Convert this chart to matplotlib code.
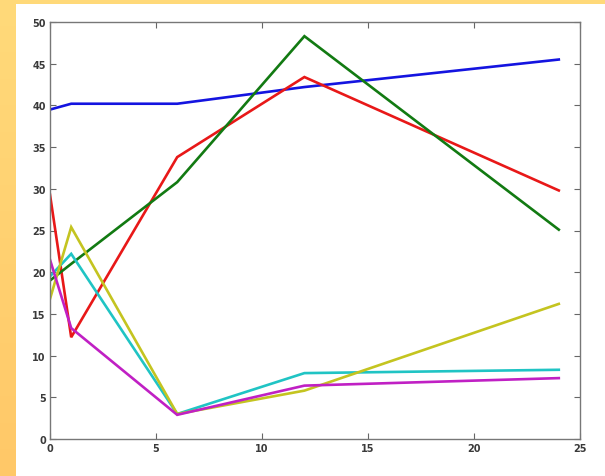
import numpy as np
import matplotlib
matplotlib.use("Agg")
import matplotlib.pyplot as plt
from matplotlib.patches import Rectangle

# Sample times and measured series
hours = [0, 1, 6, 12, 24]
blue_vals = [39.5, 40.2, 40.2, 42.2, 45.5]
red_vals = [29.3, 12.2, 33.8, 43.4, 29.8]
green_vals = [19.0, 21.0, 30.8, 48.3, 25.1]
cyan_vals = [19.5, 22.2, 3.0, 7.9, 8.3]
yellow_vals = [16.8, 25.4, 3.0, 5.8, 16.2]
magenta_vals = [21.5, 13.3, 2.9, 6.4, 7.3]

x_ticks = [0, 5, 10, 15, 20, 25]
y_ticks = [0, 5, 10, 15, 20, 25, 30, 35, 40, 45, 50]

W, H = 605, 477
fig = plt.figure(figsize=(W / 100, H / 100), dpi=100)

# warm gradient backdrop
bg = fig.add_axes([0, 0, 1, 1])
bg.set_axis_off()
t = np.linspace(0, 1, H)[:, None, None]
top = np.array([255, 218, 122]) / 255
bottom = np.array([255, 200, 104]) / 255
grad = np.broadcast_to(top * (1 - t) + bottom * t, (H, W, 3))
bg.imshow(grad, aspect="auto", extent=[0, W, H, 0])
bg.add_patch(Rectangle((16, 5), W - 16, H - 5, facecolor="white", edgecolor="none"))
bg.set_xlim(0, W)
bg.set_ylim(H, 0)

ax = fig.add_axes([50 / W, (H - 440) / H, 530 / W, 417 / H])
ax.set_facecolor("white")

series = [
    (blue_vals, "#1414e0"),
    (red_vals, "#e81818"),
    (green_vals, "#127a12"),
    (cyan_vals, "#20c4c4"),
    (yellow_vals, "#c4c420"),
    (magenta_vals, "#c020c4"),
]
for vals, col in series:
    ax.plot(hours, vals, color=col, linewidth=1.9, solid_joinstyle="miter")

ax.set_xlim(0, 25)
ax.set_ylim(0, 50)
ax.set_xticks(x_ticks)
ax.set_yticks(y_ticks)
ax.tick_params(direction="in", top=True, right=True, length=4, width=0.8,
               color="#666666", labelsize=7, labelcolor="#3a3a3a", pad=3)
for lbl in ax.get_xticklabels() + ax.get_yticklabels():
    lbl.set_fontweight("bold")
for sp in ax.spines.values():
    sp.set_color("#777777")
    sp.set_linewidth(1.0)

fig.savefig("out.png", dpi=100)
